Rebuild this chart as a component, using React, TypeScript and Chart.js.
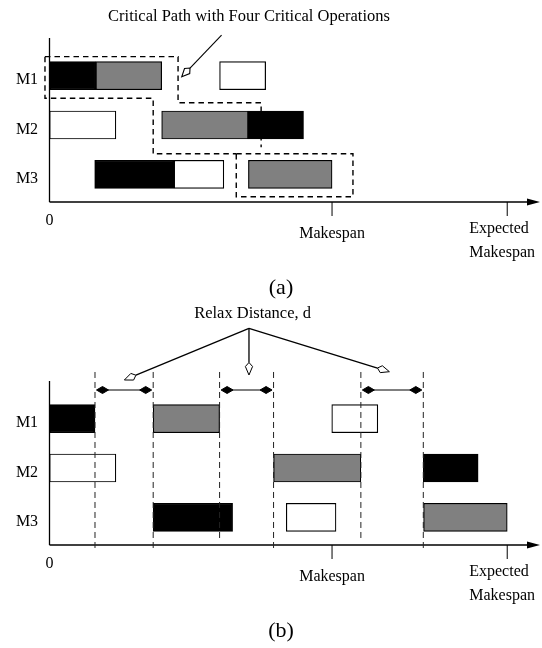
import React, { useEffect, useRef } from "react";
import { Chart, registerables } from "chart.js";
Chart.register(...registerables);

// ---------- data ----------
const machines = ["M1", "M2", "M3"];

// (a) original schedule: [start, end] per machine M1, M2, M3
const aBlack = [[0, 16.4], [70.3, 89.9], [16, 44.1]];
const aGray = [[16.4, 39.7], [39.7, 70.3], [70.4, 100]];
const aWhite = [[60.2, 76.5], [0, 23.5], [44.1, 61.7]];

// (b) relaxed schedule
const bBlack = [[0, 16.1], [132.3, 151.7], [36.7, 64.8]];
const bGray = [[36.7, 60.2], [79.3, 110.2], [132.4, 162]];
const bWhite = [[99.9, 116.2], [0, 23.5], [83.8, 101.4]];

const makespan = 100;
const expectedMakespan = 162;
const axisMax = 173.6;

// critical path outline in (a): [time, row index]
const critPathUpper = [[-1.6, -0.385], [45.5, -0.385], [45.5, 0.548], [74.9, 0.548], [74.9, 1.45]];
const critPathLower = [[-1.6, -0.385], [-1.6, 0.459], [36.7, 0.459], [36.7, 1.584], [66.1, 1.584]];
const critPathBox = [[66.1, 1.584], [107.4, 2.453]];
const critArrow = [[60.9, -0.824], [46.8, 0.021]];

// relax distance in (b)
const relaxLines = [16.1, 36.7, 60.2, 79.3, 110.2, 132.3];
const relaxLineToAxis = [true, true, false, true, false, true];
const relaxSpans = [[16.1, 36.7], [60.2, 79.3], [110.2, 132.3]];
const relaxOrigin = [70.6, -1.832];
const relaxTips = [[26.5, -0.784], [70.6, -0.885], [120.3, -0.952]];

const FONT = "'Liberation Serif', 'Times New Roman', serif";

function nib(ctx: CanvasRenderingContext2D, tx: number, ty: number, fx: number, fy: number, L: number, W: number, fill: string, side = 0.6) {
  const dx = fx - tx, dy = fy - ty;
  const d = Math.hypot(dx, dy);
  const ux = dx / d, uy = dy / d;
  const nx = -uy, ny = ux;
  ctx.beginPath();
  ctx.moveTo(tx, ty);
  ctx.lineTo(tx + ux * L * side + nx * W, ty + uy * L * side + ny * W);
  ctx.lineTo(tx + ux * L, ty + uy * L);
  ctx.lineTo(tx + ux * L * side - nx * W, ty + uy * L * side - ny * W);
  ctx.closePath();
  ctx.fillStyle = fill;
  ctx.fill();
  ctx.stroke();
  return [tx + ux * L, ty + uy * L];
}

function makeDecor(caption: string, extra: (ctx: CanvasRenderingContext2D, X: (v: number) => number, Y: (v: number) => number, axisY: number) => void) {
  return {
    id: "decor",
    afterDatasetsDraw(chart: any) {
      const ctx: CanvasRenderingContext2D = chart.ctx;
      const xs = chart.scales.x, ys = chart.scales.y;
      const ca = chart.chartArea;
      const X = (v: number) => xs.getPixelForValue(v);
      const Y = (v: number) => ys.getPixelForValue(v);
      const axisY = ca.bottom + 3;
      const x0 = X(0);
      ctx.save();
      ctx.strokeStyle = "#000";
      ctx.fillStyle = "#000";
      ctx.lineWidth = 1.3;
      ctx.setLineDash([]);
      // y axis
      ctx.beginPath();
      ctx.moveTo(x0, ca.top - 13);
      ctx.lineTo(x0, axisY);
      ctx.stroke();
      // x axis
      const tip = X(axisMax);
      ctx.beginPath();
      ctx.moveTo(x0, axisY);
      ctx.lineTo(tip - 6, axisY);
      ctx.stroke();
      ctx.beginPath();
      ctx.moveTo(tip, axisY);
      ctx.lineTo(tip - 13, axisY - 3.5);
      ctx.lineTo(tip - 13, axisY + 3.5);
      ctx.closePath();
      ctx.fill();
      // ticks
      ctx.lineWidth = 1;
      [makespan, expectedMakespan].forEach((v) => {
        ctx.beginPath();
        ctx.moveTo(X(v), axisY);
        ctx.lineTo(X(v), axisY + 14);
        ctx.stroke();
      });
      // labels
      ctx.font = `16px ${FONT}`;
      ctx.textBaseline = "middle";
      ctx.textAlign = "center";
      ctx.fillText("0", x0, axisY + 19);
      ctx.fillText("Makespan", X(makespan), axisY + 31.5);
      ctx.textAlign = "left";
      ctx.fillText("Expected", X(expectedMakespan) - 38, axisY + 26.8);
      ctx.fillText("Makespan", X(expectedMakespan) - 38, axisY + 50.3);
      ctx.textAlign = "center";
      machines.forEach((m, i) => ctx.fillText(m, 27, Y(i) + 4.5));
      ctx.font = `22px ${FONT}`;
      ctx.fillText(caption, 281, axisY + 86.5);
      extra(ctx, X, Y, axisY);
      ctx.restore();
    },
  };
}

function decorA(ctx: CanvasRenderingContext2D, X: (v: number) => number, Y: (v: number) => number) {
  ctx.font = `16.5px ${FONT}`;
  ctx.fillStyle = "#000";
  ctx.textAlign = "center";
  ctx.fillText("Critical Path with Four Critical Operations", 249, 17);
  ctx.lineWidth = 1.4;
  ctx.setLineDash([5.5, 4]);
  [critPathUpper, critPathLower].forEach((path) => {
    ctx.beginPath();
    path.forEach(([t, r], i) => (i === 0 ? ctx.moveTo(X(t), Y(r)) : ctx.lineTo(X(t), Y(r))));
    ctx.stroke();
  });
  const [[t1, r1], [t2, r2]] = critPathBox;
  ctx.strokeRect(X(t1), Y(r1), X(t2) - X(t1), Y(r2) - Y(r1));
  ctx.setLineDash([]);
  ctx.lineWidth = 1.1;
  const [[sx, sy], [ex, ey]] = critArrow;
  const back = nib(ctx, X(ex), Y(ey), X(sx), Y(sy), 12, 3.6, "#fff", 0.65);
  ctx.beginPath();
  ctx.moveTo(X(sx), Y(sy));
  ctx.lineTo(back[0], back[1]);
  ctx.stroke();
}

function decorB(ctx: CanvasRenderingContext2D, X: (v: number) => number, Y: (v: number) => number, axisY: number) {
  ctx.font = `16.5px ${FONT}`;
  ctx.fillStyle = "#000";
  ctx.textAlign = "center";
  ctx.fillText("Relax Distance, d", 252.6, 13.5);
  // dashed verticals
  ctx.lineWidth = 1;
  ctx.strokeStyle = "#222";
  ctx.setLineDash([6, 4]);
  relaxLines.forEach((t, i) => {
    ctx.beginPath();
    ctx.moveTo(X(t), Y(-0.946));
    ctx.lineTo(X(t), relaxLineToAxis[i] ? axisY + 5 : axisY - 5);
    ctx.stroke();
  });
  ctx.setLineDash([]);
  ctx.strokeStyle = "#000";
  // double arrows
  const ay = Y(-0.581);
  relaxSpans.forEach(([a, b]) => {
    const xa = X(a), xb = X(b);
    ctx.lineWidth = 1;
    ctx.beginPath();
    ctx.moveTo(xa + 6, ay);
    ctx.lineTo(xb - 6, ay);
    ctx.stroke();
    nib(ctx, xa + 1.5, ay, xb, ay, 12, 3.5, "#000", 0.5);
    nib(ctx, xb - 1.5, ay, xa, ay, 12, 3.5, "#000", 0.5);
  });
  // relax distance pointers
  const ox = X(relaxOrigin[0]), oy = Y(relaxOrigin[1]);
  relaxTips.forEach(([t, r]) => {
    ctx.lineWidth = 1;
    const back = nib(ctx, X(t), Y(r), ox, oy, 12.5, 3.6, "#fff", 0.68);
    ctx.lineWidth = 1.3;
    ctx.beginPath();
    ctx.moveTo(ox, oy);
    ctx.lineTo(back[0], back[1]);
    ctx.stroke();
  });
}

function ds(data: number[][], color: string) {
  return {
    data,
    backgroundColor: color,
    borderColor: "#000",
    borderWidth: 1.2,
    borderSkipped: false,
    grouped: false,
    barThickness: 28,
  };
}

function makeConfig(black: number[][], gray: number[][], white: number[][], padTop: number, padBottom: number, plugin: any): any {
  return {
    type: "bar",
    data: {
      labels: machines,
      datasets: [ds(black, "#000"), ds(gray, "#808080"), ds(white, "#fff")],
    },
    options: {
      indexAxis: "y",
      responsive: false,
      animation: false,
      events: [],
      layout: { padding: { left: 49.5, right: 2, top: padTop, bottom: padBottom } },
      scales: {
        x: { type: "linear", min: 0, max: axisMax, display: false },
        y: { type: "category", display: false, offset: true },
      },
      plugins: { legend: { display: false }, tooltip: { enabled: false } },
    },
    plugins: [plugin],
  };
}

export default function App() {
  const refA = useRef<HTMLCanvasElement>(null);
  const refB = useRef<HTMLCanvasElement>(null);
  useEffect(() => {
    const ca = new Chart(refA.current!, makeConfig(aBlack, aGray, aWhite, 51, 101, makeDecor("(a)", decorA)));
    const cb = new Chart(refB.current!, makeConfig(bBlack, bGray, bWhite, 94, 106, makeDecor("(b)", decorB)));
    return () => {
      ca.destroy();
      cb.destroy();
    };
  }, []);
  return (
    <div style={{ position: "absolute", left: 0, top: 0, width: 542, height: 648, background: "#fff" }}>
      <canvas ref={refA} width={542} height={300} style={{ position: "absolute", left: 0, top: 0, width: 542, height: 300 }} />
      <canvas ref={refB} width={542} height={348} style={{ position: "absolute", left: 0, top: 300, width: 542, height: 348 }} />
    </div>
  );
}
